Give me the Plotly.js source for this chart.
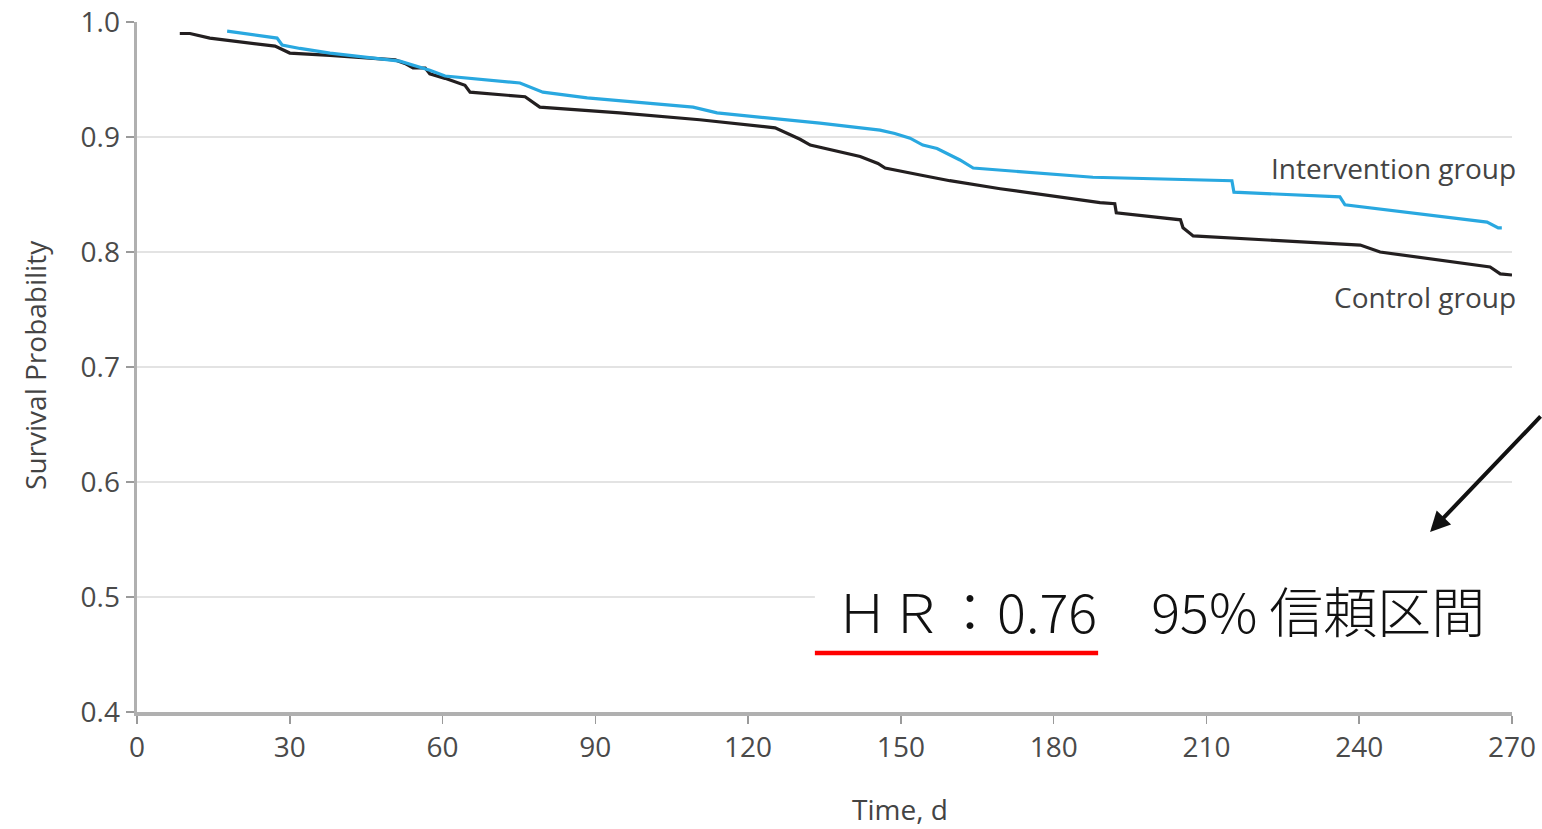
<!DOCTYPE html>
<html>
<head>
<meta charset="utf-8">
<script src="https://cdn.plot.ly/plotly-3.0.1.min.js"></script>
<style>
html,body{margin:0;padding:0;background:#fff;}
#chart{width:1542px;height:829px;}
</style>
</head>
<body>
<div id="chart"></div>
<script>
// Control group (black)
const controlDays = [8.4, 10.4, 14.3, 27.1, 30.0, 37.9, 50.7, 52.6, 54.2, 56.6, 57.5, 60.5, 64.4, 65.4, 76.2, 79.1, 94.8, 110.5, 125.3, 128.2, 130.2, 132.2, 136.1, 142.0, 145.5, 146.9, 153.8, 159.6, 169.5, 179.3, 189.1, 192.0, 192.3, 204.9, 205.4, 207.4, 228.4, 240.2, 244.1, 252.0, 265.7, 267.7, 270.0];
const controlSurv = [0.990, 0.990, 0.986, 0.979, 0.973, 0.971, 0.967, 0.964, 0.960, 0.960, 0.955, 0.951, 0.945, 0.939, 0.935, 0.926, 0.921, 0.915, 0.908, 0.902, 0.898, 0.893, 0.889, 0.883, 0.877, 0.873, 0.867, 0.862, 0.855, 0.849, 0.843, 0.842, 0.834, 0.828, 0.821, 0.814, 0.809, 0.806, 0.800, 0.795, 0.787, 0.781, 0.780];
// Intervention group (blue)
const interventionDays = [17.7, 27.5, 28.5, 32.0, 37.9, 51.6, 57.5, 60.5, 75.2, 79.7, 88.4, 109.2, 113.9, 134.1, 145.9, 148.8, 151.8, 154.3, 157.1, 161.6, 164.2, 187.7, 215.0, 215.4, 236.2, 237.2, 265.1, 267.3, 268.0];
const interventionSurv = [0.992, 0.986, 0.980, 0.977, 0.973, 0.966, 0.958, 0.953, 0.947, 0.939, 0.934, 0.926, 0.921, 0.912, 0.906, 0.903, 0.899, 0.893, 0.890, 0.880, 0.873, 0.865, 0.862, 0.852, 0.848, 0.841, 0.826, 0.821, 0.821];

const xTicks = [0, 30, 60, 90, 120, 150, 180, 210, 240, 270];
const yTicks = [0.4, 0.5, 0.6, 0.7, 0.8, 0.9, 1.0];
const yTickLabels = ['0.4', '0.5', '0.6', '0.7', '0.8', '0.9', '1.0'];

const seriesNames = ['Intervention group', 'Control group'];
const hrText = 'ＨＲ：0.76　95% 信頼区間　0';
const xTitle = 'Time, d';
const yTitle = 'Survival Probability';

const tickFont = {family: 'Open Sans, sans-serif', size: 28, color: '#4a4a4a'};

const traces = [
  {x: controlDays, y: controlSurv, type: 'scatter', mode: 'lines', name: seriesNames[1],
   line: {color: '#231f20', width: 3.2}, hoverinfo: 'x+y'},
  {x: interventionDays, y: interventionSurv, type: 'scatter', mode: 'lines', name: seriesNames[0],
   line: {color: '#29a8e0', width: 3.2}, hoverinfo: 'x+y'}
];

const layout = {
  width: 1542, height: 829,
  margin: {l: 137, r: 30, t: 22, b: 117, pad: 0},
  paper_bgcolor: '#ffffff', plot_bgcolor: '#ffffff',
  showlegend: false,
  xaxis: {
    range: [0, 270], tickvals: xTicks, ticktext: xTicks.map(String),
    showgrid: false, zeroline: false,
    showline: true, linecolor: '#b0b0b0', linewidth: 3.5,
    ticks: 'outside', ticklen: 8, tickwidth: 1.5, tickcolor: '#9a9a9a',
    tickfont: tickFont, fixedrange: true
  },
  yaxis: {
    range: [0.4, 1.0], tickvals: yTicks, ticktext: yTickLabels,
    showgrid: true, gridcolor: '#e3e3e3', gridwidth: 2,
    zeroline: false,
    showline: true, linecolor: '#b0b0b0', linewidth: 3.5,
    ticks: 'outside', ticklen: 8, tickwidth: 1.5, tickcolor: '#9a9a9a',
    tickfont: tickFont, fixedrange: true
  },
  shapes: [
    {type: 'rect', xref: 'paper', yref: 'paper', x0: 0.493, x1: 1.03, y0: 0.06, y1: 0.25,
     fillcolor: '#ffffff', line: {width: 0}, layer: 'above'},
    {type: 'line', xref: 'paper', yref: 'paper', x0: 0.493, x1: 0.699, y0: 0.0855, y1: 0.0855,
     line: {color: '#ff0000', width: 4.5}, layer: 'above'}
  ],
  annotations: [
    {xref: 'paper', yref: 'paper', x: 1.0044, y: 0.788, xanchor: 'right', yanchor: 'middle',
     text: seriesNames[0], showarrow: false,
     font: {family: 'Open Sans, sans-serif', size: 28, color: '#444'}},
    {xref: 'paper', yref: 'paper', x: 1.0044, y: 0.601, xanchor: 'right', yanchor: 'middle',
     text: seriesNames[1], showarrow: false,
     font: {family: 'Open Sans, sans-serif', size: 28, color: '#444'}},
    {xref: 'paper', yref: 'paper', x: 0.555, y: -0.14, xanchor: 'center', yanchor: 'middle',
     text: xTitle, showarrow: false,
     font: {family: 'Open Sans, sans-serif', size: 28, color: '#444'}},
    {xref: 'paper', yref: 'paper', x: -0.0742, y: 0.503, xanchor: 'center', yanchor: 'middle',
     text: yTitle, textangle: -90, showarrow: false,
     font: {family: 'Open Sans, sans-serif', size: 28, color: '#444'}},
    {xref: 'paper', yref: 'paper', x: 0.506, y: 0.149, xanchor: 'left', yanchor: 'middle',
     text: hrText, showarrow: false,
     font: {family: 'Noto Sans CJK JP, sans-serif', size: 54, color: '#111', weight: 300}},
    {xref: 'paper', yref: 'paper', x: 0.9404, y: 0.2609, text: '', showarrow: true,
     ax: 118, ay: -117, axref: 'pixel', ayref: 'pixel',
     arrowhead: 2, arrowsize: 1, arrowwidth: 4, arrowcolor: '#111', standoff: 0}
  ]
};

Plotly.newPlot('chart', traces, layout, {displayModeBar: false, staticPlot: true});
</script>
</body>
</html>
